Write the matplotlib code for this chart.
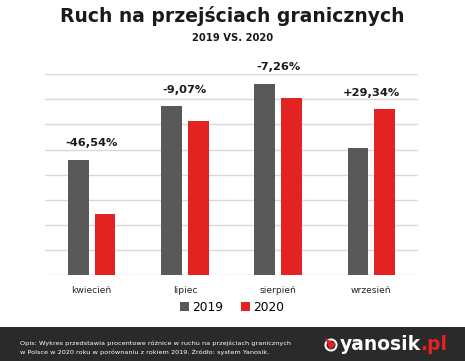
import matplotlib
matplotlib.use("Agg")
import matplotlib.pyplot as plt
from matplotlib.patches import Rectangle, Circle, Polygon
import numpy as np

categories = ["kwiecień", "lipiec", "sierpień", "wrzesień"]
values_2019 = [4.6, 6.73, 7.63, 5.08]
values_2020 = [2.45, 6.12, 7.07, 6.6]
change_labels = ["-46,54%", "-9,07%", "-7,26%", "+29,34%"]
series_names = ["2019", "2020"]

c2019 = "#595959"
c2020 = "#e32222"

plt.rcParams['font.family'] = ['DejaVu Sans']

fig = plt.figure(figsize=(4.65, 3.61), dpi=100)
fig.patch.set_facecolor("white")

ax = fig.add_axes([45/465, 1-275/361, (418-45)/465, (275-74.3)/361])
x = np.arange(len(categories))
w = 0.222
off = 0.144
ax.bar(x - off, values_2019, w, color=c2019, label=series_names[0], zorder=3)
ax.bar(x + off, values_2020, w, color=c2020, label=series_names[1], zorder=3)
ax.set_xlim(-0.5, 3.5)
ax.set_ylim(0, 8)
ax.set_yticks(np.arange(0, 9, 1))
ax.yaxis.grid(True, color="#d9d9d9", linewidth=1.0, zorder=0)
ax.tick_params(axis='y', left=False, labelleft=False)
ax.tick_params(axis='x', bottom=False, labelsize=6.6, pad=4.5, colors="#222222")
ax.set_xticks(x)
ax.set_xticklabels(categories)
for s in ax.spines.values():
    s.set_visible(False)

for i, lab in enumerate(change_labels):
    top = max(values_2019[i], values_2020[i])
    ax.annotate(lab, (x[i], top), xytext=(0, 8), textcoords="offset points",
                ha="center", va="bottom", fontsize=8.2, fontweight="bold",
                color="#1a1a1a", annotation_clip=False)

leg = fig.legend(loc="center", bbox_to_anchor=(232/465, 1-307.5/361), ncol=2,
                 frameon=False, fontsize=8.8, handlelength=0.75, handleheight=0.75,
                 handletextpad=0.3, columnspacing=1.4, borderaxespad=0)

fig.text(0.5, 1-16/361, "Ruch na przejściach granicznych", ha="center", va="center",
         fontsize=13.5, fontweight="bold", color="#1a1a1a")
fig.text(0.5, 1-38/361, "2019 VS. 2020", ha="center", va="center",
         fontsize=7.2, fontweight="bold", color="#1a1a1a")

# footer band
fig.patches.append(Rectangle((0, 0), 1, (361-327)/361, transform=fig.transFigure,
                             facecolor="#2a2a2a", edgecolor="none", zorder=0))
fig.text(20/465, 1-343.5/361,
         "Opis: Wykres przedstawia procentowe różnice w ruchu na przejściach granicznych",
         ha="left", va="center", fontsize=4.65, color="white")
fig.text(20/465, 1-352/361,
         "w Polsce w 2020 roku w porównaniu z rokiem 2019. Źródło: system Yanosik.",
         ha="left", va="center", fontsize=4.65, color="white")

# logo
fig.patches.append(Circle((331, 361-345), 5.5, transform=None, facecolor="none",
                          edgecolor="white", linewidth=1.5, zorder=5))
fig.patches.append(Polygon([(325, 361-338), (336, 361-344), (330, 361-350)], closed=True,
                           transform=None, facecolor=c2020, edgecolor="none", zorder=6))
t1 = fig.text(340/465, 1-345/361, "yanosik", ha="left", va="center",
              fontsize=13.5, fontweight="bold", color="white")
fig.canvas.draw()
bb = t1.get_window_extent()
fig.text(bb.x1/465 - 0.003, 1-345/361, ".pl", ha="left", va="center",
         fontsize=13.5, fontweight="bold", color=c2020)

fig.savefig("out.png", dpi=100)
